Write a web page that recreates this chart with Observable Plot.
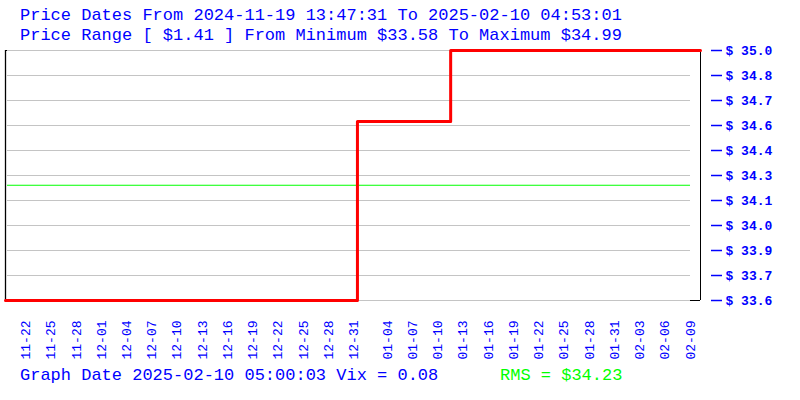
<!DOCTYPE html>
<html>
<head>
<meta charset="utf-8">
<script src="https://cdn.jsdelivr.net/npm/d3@7"></script>
<script src="https://cdn.jsdelivr.net/npm/@observablehq/plot@0.6"></script>
<style>
  html, body { margin: 0; padding: 0; background: #fff; }
  #wrap { position: relative; width: 800px; height: 400px; font-family: "Liberation Mono", monospace; }
  .t { position: absolute; font-size: 17px; line-height: 20px; white-space: pre; color: blue; }
</style>
</head>
<body>
<div id="wrap"></div>
<script>
// ---- data ----
const titleLine1 = "Price Dates From 2024-11-19 13:47:31 To 2025-02-10 04:53:01";
const titleLine2 = "Price Range [ $1.41 ] From Minimum $33.58 To Maximum $34.99";
const footerLeft = "Graph Date 2025-02-10 05:00:03 Vix = 0.08";
const footerRight = "RMS = $34.23";

const startTime = "2024-11-19T13:47:31";
const endTime = "2025-02-10T04:53:01";
const stepTimes = ["2024-11-19T13:47:31", "2024-12-31T10:00:00", "2025-01-11T12:00:00", "2025-02-10T04:53:01"];
const stepPrices = [33.58, 34.59, 34.99, 34.99];
const priceMin = 33.58;
const priceMax = 34.99;
const rmsPrice = 34.23;
const yTickValues = [33.58, 33.721, 33.862, 34.003, 34.144, 34.285, 34.426, 34.567, 34.708, 34.849, 34.99];
const xTickLabels = ["11-22","11-25","11-28","12-01","12-04","12-07","12-10","12-13","12-16","12-19","12-22","12-25","12-28","12-31",
  "01-04","01-07","01-10","01-13","01-16","01-19","01-22","01-25","01-28","01-31","02-03","02-06","02-09"];

// ---- build ----
const parse = s => new Date(s + "Z");
const t0 = parse(startTime), t1 = parse(endTime);
const series = stepTimes.map((t, i) => ({date: parse(t), price: stepPrices[i]}));
const xTicks = xTickLabels.map(l => new Date(Date.UTC(l.startsWith("1") ? 2024 : 2025, +l.slice(0,2) - 1, +l.slice(3))));
const labelOf = new Map(xTicks.map((d, i) => [+d, xTickLabels[i]]));

const chart = Plot.plot({
  width: 800,
  height: 400,
  marginTop: 50,
  marginBottom: 100,
  marginLeft: 5,
  marginRight: 100,
  style: {fontFamily: "Liberation Mono", background: "white"},
  x: {type: "utc", domain: [t0, t1]},
  y: {domain: [priceMin, priceMax]},
  marks: [
    Plot.ruleY(yTickValues, {stroke: "#c4c4c4", insetLeft: 2, insetRight: 10}),
    Plot.ruleX([t0], {stroke: "black", strokeWidth: 1.3}),
    Plot.ruleX([t1], {stroke: "black"}),
    Plot.ruleY([priceMax], {stroke: "black", insetRight: 693}),
    Plot.ruleY([priceMin], {stroke: "black", insetLeft: 685}),
    Plot.ruleY([rmsPrice], {stroke: "#00ff00", insetLeft: 2, insetRight: 10}),
    Plot.line(series, {x: "date", y: "price", curve: "step-after", stroke: "red", strokeWidth: 3}),
    Plot.axisY(yTickValues, {anchor: "right", tickSize: 11, tickPadding: 4, dx: 10, strokeWidth: 1.5,
      tickFormat: d => "$ " + d.toFixed(1), color: "blue", fontWeight: "bold", fontSize: 13, label: null}),
    Plot.axisX(xTicks, {anchor: "bottom", tickSize: 0, tickPadding: 20, tickRotate: -90,
      tickFormat: d => labelOf.get(+d), color: "blue", fontSize: 13, label: null})
  ]
});

const wrap = document.getElementById("wrap");
wrap.appendChild(chart);
chart.style.position = "absolute";
chart.style.left = "0px";
chart.style.top = "0px";

function addText(txt, left, top, color) {
  const d = document.createElement("div");
  d.className = "t";
  d.textContent = txt;
  d.style.left = left + "px";
  d.style.top = top + "px";
  d.style.color = color;
  wrap.appendChild(d);
}
addText(titleLine1, 20, 6, "blue");
addText(titleLine2, 20, 26, "blue");
addText(footerLeft, 20, 366, "blue");
addText(footerRight, 500, 366, "#00ff00");
</script>
</body>
</html>
